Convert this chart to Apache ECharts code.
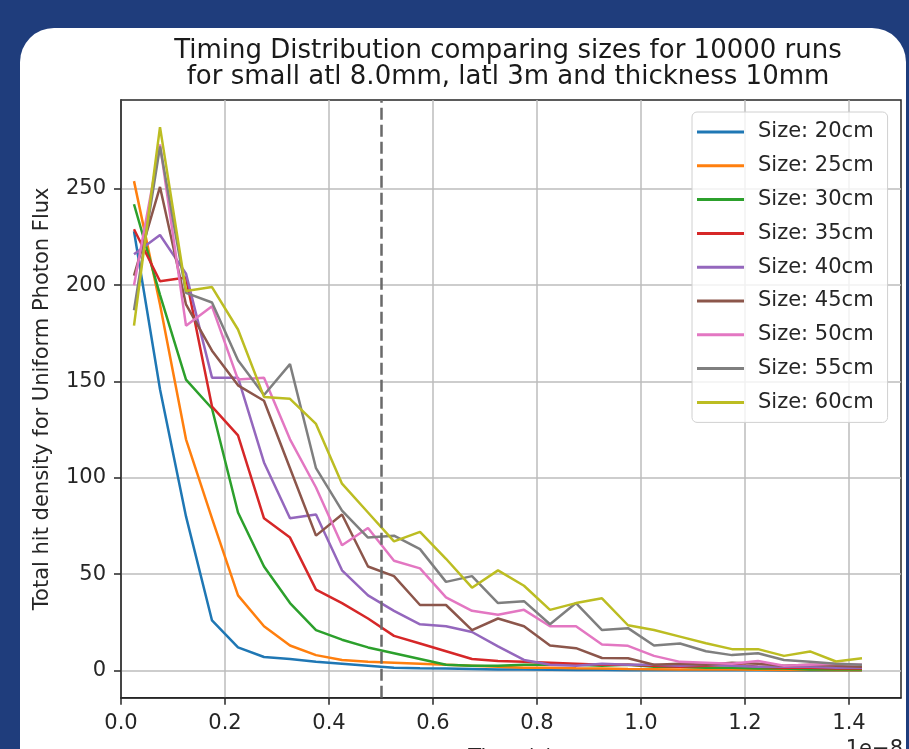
<!DOCTYPE html>
<html>
<head>
<meta charset="utf-8">
<script src="https://cdn.jsdelivr.net/npm/echarts@6/dist/echarts.min.js"></script>
<style>
  html, body { margin: 0; padding: 0; background: #1f3d7c; overflow: hidden; }
  #card { position: absolute; left: 20px; top: 28px; width: 886px; height: 800px; background: #fff; border-radius: 34px; }
  #main { position: absolute; left: 0; top: 0; width: 909px; height: 749px; }
</style>
</head>
<body>
<div id="card"></div>
<div id="main"></div>
<script>
// bin centres (units of 1e-8 s)
const times = [0.025, 0.075, 0.125, 0.175, 0.225, 0.275, 0.325, 0.375, 0.425, 0.475,
  0.525, 0.575, 0.625, 0.675, 0.725, 0.775, 0.825, 0.875, 0.925, 0.975,
  1.025, 1.075, 1.125, 1.175, 1.225, 1.275, 1.325, 1.375, 1.425];

const size20 = [228, 146, 80, 26, 12, 7, 6, 4.5, 3.5, 2.5, 1.5, 1.2, 1, 0.8, 0.6, 0.5, 0.4, 0.3, 0.3, 0.2, 0.2, 0.1, 0.1, 0.1, 0.1, 0, 0, 0, 0];
const size25 = [254, 190, 120, 79, 39, 23, 13, 8, 5.5, 4.5, 4, 3.5, 3, 2.5, 2, 1.5, 1.5, 1.2, 1, 0.8, 0.7, 0.6, 0.5, 0.5, 0.4, 0.3, 0.3, 0.2, 0.2];
const size30 = [242, 195, 151, 136, 82, 54, 35, 21, 16, 12, 9, 6, 3, 2.5, 2.5, 3, 3, 3, 2.5, 3, 2, 2, 1.5, 1.5, 1, 1, 0.5, 0.5, 0.5];
const size35 = [229, 202, 204, 137, 122, 79, 69, 42, 35, 27, 18, 14, 10, 6, 5, 4.5, 4, 3.5, 3, 3, 2.5, 2, 2.5, 3, 2, 1.5, 1.5, 1, 1];
const size40 = [216, 226, 206, 152, 152, 108, 79, 81, 52, 39, 31, 24, 23, 20, 12.5, 5.5, 3, 2.5, 3.5, 3, 3, 2.5, 3, 2.5, 2, 2, 2, 1.5, 1.5];
const size45 = [205, 251, 190, 166, 148, 140, 105, 70, 81, 54, 49, 34, 34, 21, 27, 23, 13, 11.6, 6.5, 6.4, 3, 3.5, 3, 4, 3.5, 2.5, 3, 2.5, 2];
const size50 = [200, 273, 179, 189, 151, 152, 120, 95, 65, 74, 57, 53, 38, 31, 29, 31.5, 23, 23, 13.5, 12.8, 7.6, 4.5, 4, 3.5, 5, 2.5, 3, 3.5, 3];
const size55 = [187, 272, 196, 191, 161, 143, 159, 105, 83, 69, 70, 63, 46, 49, 35, 36, 24, 35, 21, 22, 13, 14, 10, 8, 9, 5.5, 4.5, 3.5, 3];
const size60 = [179, 282, 197, 199, 177, 142, 141, 128, 97, 82, 67, 72, 58, 43, 52, 44, 31.5, 35, 37.5, 23.5, 21, 17.6, 14.2, 11.1, 11.1, 7.6, 9.9, 4.7, 6.4];

const seriesNames = ['Size: 20cm', 'Size: 25cm', 'Size: 30cm', 'Size: 35cm', 'Size: 40cm',
  'Size: 45cm', 'Size: 50cm', 'Size: 55cm', 'Size: 60cm'];
const seriesValues = [size20, size25, size30, size35, size40, size45, size50, size55, size60];
const colors = ['#1f77b4', '#ff7f0e', '#2ca02c', '#d62728', '#9467bd', '#8c564b', '#e377c2', '#7f7f7f', '#bcbd22'];

const xTicks = [0, 0.2, 0.4, 0.6, 0.8, 1.0, 1.2, 1.4];
const yTicks = [0, 50, 100, 150, 200, 250];
const cutTime = 0.5;

const font = 'DejaVu Sans';
const chart = echarts.init(document.getElementById('main'));

const series = seriesValues.map(function (vals, i) {
  const s = {
    name: seriesNames[i],
    type: 'line',
    symbol: 'none',
    data: vals.map(function (v, k) { return [times[k], v]; }),
    lineStyle: { width: 2.5, color: colors[i] },
    itemStyle: { color: colors[i] },
    animation: false
  };
  if (i === seriesValues.length - 1) {
    s.markLine = {
      silent: true,
      symbol: ['none', 'none'],
      label: { show: false },
      lineStyle: { color: '#6a6a6a', width: 2.5, type: [12, 5] },
      data: [{ xAxis: cutTime }]
    };
  }
  return s;
});

chart.setOption({
  backgroundColor: 'transparent',
  color: colors,
  textStyle: { fontFamily: font },
  graphic: [
    {
      type: 'text', x: 508, y: 38,
      style: {
        text: 'Timing Distribution comparing sizes for 10000 runs\nfor small atl 8.0mm, latl 3m and thickness 10mm',
        font: '26px "DejaVu Sans"', fill: '#1a1a1a', align: 'center', lineHeight: 26
      }
    },
    {
      type: 'text', x: 903, y: 739,
      style: { text: '1e\u22128', font: '21px "DejaVu Sans"', fill: '#262626', align: 'right' }
    }
  ],
  legend: {
    left: 692, top: 112, orient: 'vertical',
    padding: [8, 14, 8, 5],
    icon: 'rect',
    itemWidth: 47, itemHeight: 3, itemGap: 9.8,
    backgroundColor: 'rgba(255,255,255,0.8)',
    borderColor: '#d0d0d0', borderWidth: 1, borderRadius: 5,
    textStyle: { fontFamily: font, fontSize: 21, color: '#262626', lineHeight: 24, padding: [0, 0, 0, 9] }
  },
  grid: {
    left: 121, top: 100, right: 8, bottom: 51.3, outerBoundsMode: 'none',
    show: true, borderColor: '#262626', borderWidth: 1.5
  },
  xAxis: {
    type: 'value', min: 0, max: 1.5,
    name: 'Time (s)', nameLocation: 'middle', nameGap: 50,
    nameTextStyle: { fontFamily: font, fontSize: 21, color: '#262626' },
    axisLine: { show: true, onZero: false, lineStyle: { color: '#262626', width: 1.5 } },
    axisTick: { show: true, length: 7, customValues: xTicks, lineStyle: { color: '#262626', width: 1.5 } },
    axisLabel: { customValues: xTicks, margin: 15, fontFamily: font, fontSize: 21, color: '#262626',
      formatter: function (v) { return v.toFixed(1); } },
    splitLine: { show: true, lineStyle: { color: '#bdbdbd', width: 1.5 } }
  },
  yAxis: {
    type: 'value', min: -14.1, max: 296.1,
    name: 'Total hit density for Uniform Photon Flux', nameLocation: 'middle', nameGap: 68,
    nameTextStyle: { fontFamily: font, fontSize: 21, color: '#262626' },
    axisLine: { show: true, onZero: false, lineStyle: { color: '#262626', width: 1.5 } },
    axisTick: { show: true, length: 7, customValues: yTicks, lineStyle: { color: '#262626', width: 1.5 } },
    axisLabel: { customValues: yTicks, margin: 15, fontFamily: font, fontSize: 21, color: '#262626' },
    splitLine: { show: true, lineStyle: { color: '#bdbdbd', width: 1.5 } }
  },
  series: series
});
</script>
</body>
</html>
